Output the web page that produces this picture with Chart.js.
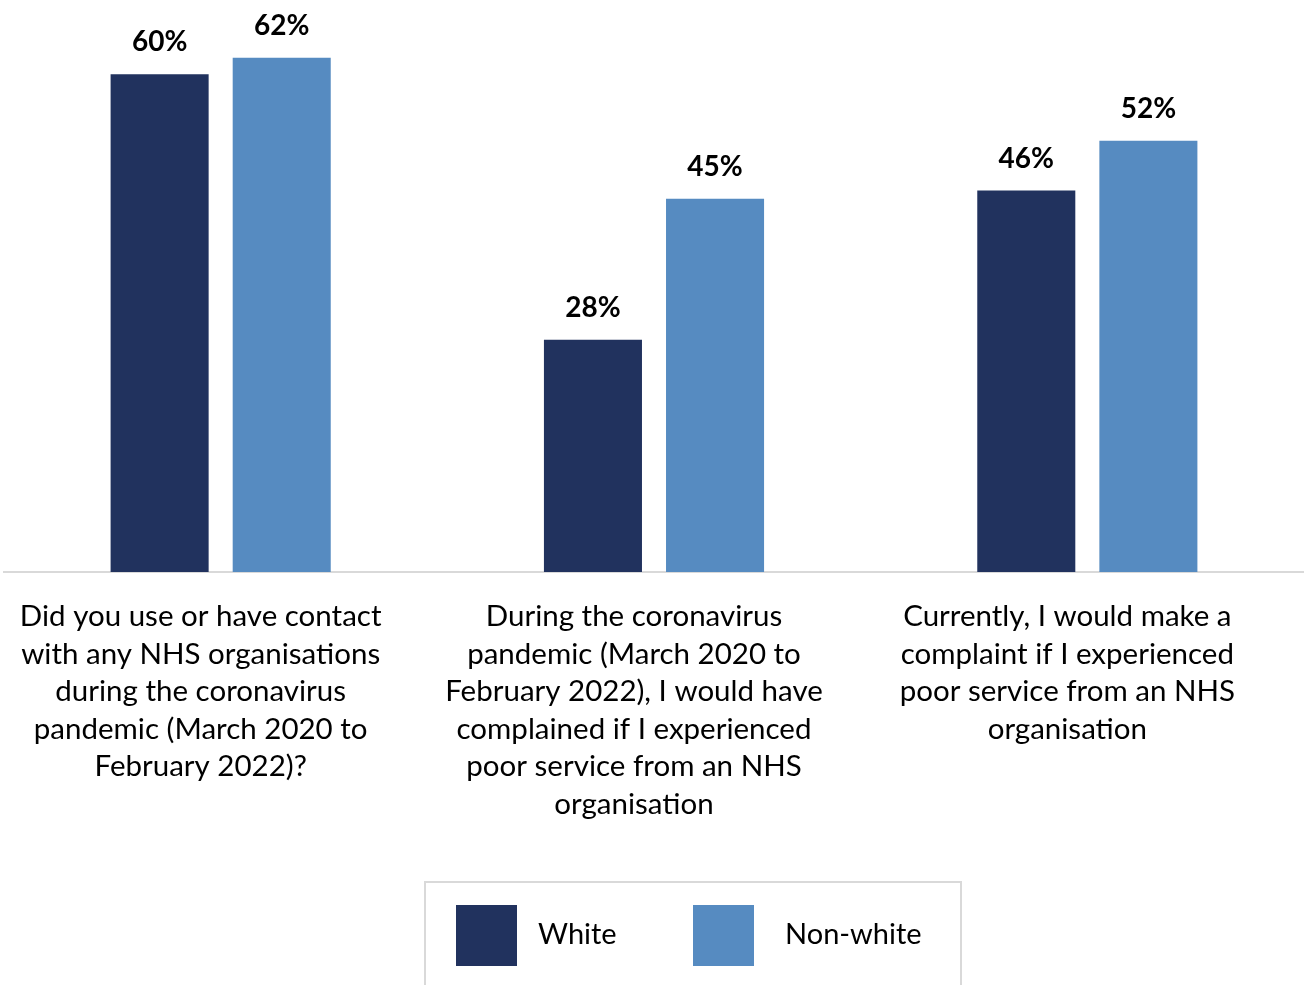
<!DOCTYPE html>
<html>
<head>
<meta charset="utf-8">
<script src="https://cdn.jsdelivr.net/npm/chart.js@4.4.1/dist/chart.umd.min.js"></script>
<style>
  html, body { margin: 0; padding: 0; background: #fff; }
  #wrap { width: 1304px; height: 985px; position: relative; }
</style>
</head>
<body>
<div id="wrap"><canvas id="chart" width="1304" height="985"></canvas></div>
<script>
// ---------- dados ----------
const categories = [
  ["Did you use or have contact", "with any NHS organisations", "during the coronavirus", "pandemic (March 2020 to", "February 2022)?"],
  ["During the coronavirus", "pandemic (March 2020 to", "February 2022), I would have", "complained if I experienced", "poor service from an NHS", "organisation"],
  ["Currently, I would make a", "complaint if I experienced", "poor service from an NHS", "organisation"]
];
const seriesNames = ["White", "Non-white"];
const whiteValues = [60, 28, 46];
const nonWhiteValues = [62, 45, 52];
const seriesColors = ["#21325e", "#568bc1"];

const FONT = "Lato, 'Open Sans', sans-serif";

// rótulos de valor acima das barras
const valueLabels = {
  id: "valueLabels",
  afterDatasetsDraw(chart) {
    const ctx = chart.ctx;
    ctx.save();
    ctx.font = "bold 28px " + FONT;
    ctx.fillStyle = "#000";
    ctx.textAlign = "center";
    ctx.textBaseline = "bottom";
    chart.data.datasets.forEach((ds, i) => {
      chart.getDatasetMeta(i).data.forEach((bar, j) => {
        ctx.fillText(ds.data[j] + "%", bar.x, bar.y - 18);
      });
    });
    ctx.restore();
  }
};

// legenda com moldura
const boxedLegend = {
  id: "boxedLegend",
  afterDraw(chart) {
    const ctx = chart.ctx;
    ctx.save();
    ctx.strokeStyle = "#d9d9d9";
    ctx.lineWidth = 2;
    ctx.strokeRect(425, 882, 536, 120);
    const items = [{ box: 456, text: 538 }, { box: 693, text: 785 }];
    ctx.font = "29px " + FONT;
    ctx.textBaseline = "middle";
    ctx.textAlign = "left";
    chart.data.datasets.forEach((ds, i) => {
      ctx.fillStyle = ds.backgroundColor;
      ctx.fillRect(items[i].box, 905, 61, 61);
      ctx.fillStyle = "#000";
      ctx.fillText(ds.label, items[i].text, 935);
    });
    ctx.restore();
  }
};

new Chart(document.getElementById("chart"), {
  type: "bar",
  data: {
    labels: categories,
    datasets: [
      { label: seriesNames[0], data: whiteValues, backgroundColor: seriesColors[0] },
      { label: seriesNames[1], data: nonWhiteValues, backgroundColor: seriesColors[1] }
    ]
  },
  options: {
    responsive: false,
    animation: false,
    layout: { padding: { left: 4, right: 0, top: 8, bottom: 0 } },
    datasets: { bar: { barPercentage: 0.803, categoryPercentage: 0.5635 } },
    plugins: {
      legend: { display: false },
      tooltip: { enabled: false }
    },
    scales: {
      x: {
        grid: { display: false },
        border: { display: true, color: "#d9d9d9", width: 2 },
        ticks: {
          color: "#000",
          font: { family: FONT, size: 29.5, lineHeight: 1.27 },
          padding: 18,
          labelOffset: -20,
          maxRotation: 0,
          autoSkip: false
        },
        afterFit(scale) { scale.height = 413; }
      },
      y: {
        display: false,
        min: 0,
        max: 68
      }
    }
  },
  plugins: [valueLabels, boxedLegend]
});
</script>
</body>
</html>
